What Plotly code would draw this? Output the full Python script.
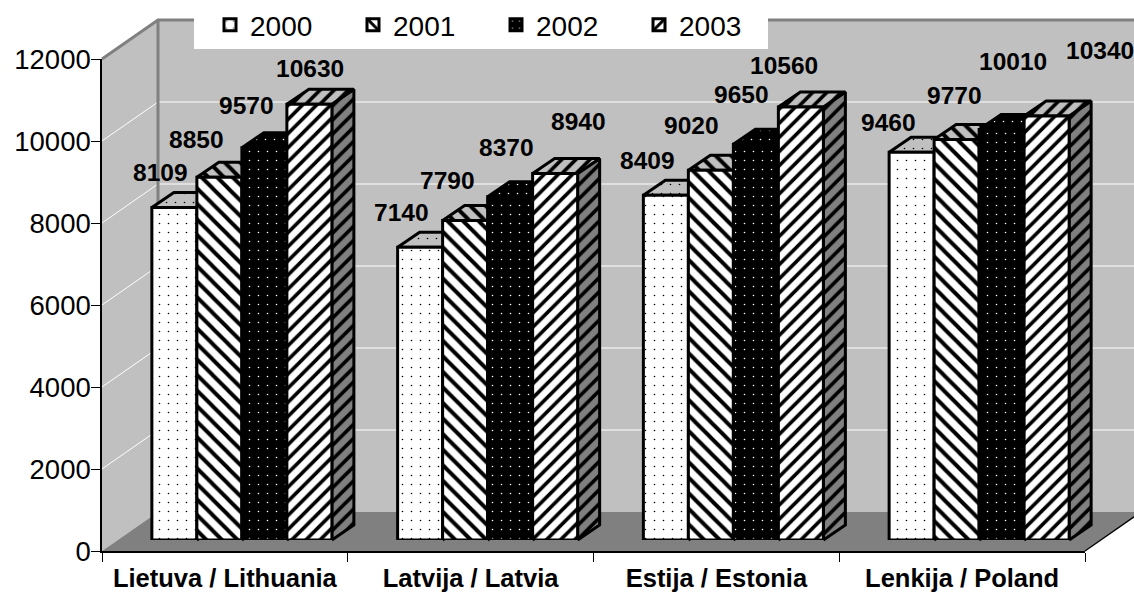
import plotly.graph_objects as go

categories = ["Lietuva / Lithuania", "Latvija / Latvia", "Estija / Estonia", "Lenkija / Poland"]
years = ["2000", "2001", "2002", "2003"]
v2000 = [8109, 7140, 8409, 9460]
v2001 = [8850, 7790, 9020, 9770]
v2002 = [9570, 8370, 9650, 10010]
v2003 = [10630, 8940, 10560, 10340]
series = [v2000, v2001, v2002, v2003]
y_ticks = [0, 2000, 4000, 6000, 8000, 10000, 12000]

# label offsets from each bar's top centre, in pixels (x right, y up)
label_dx = [[-14, -23, -18, 1], [-19, -18, -4, 23], [-18, -19, -14, -17], [-23, -2, 11, 53]]
label_dy = [[35, 38, 42, 36], [35, 40, 49, 52], [35, 45, 50, 42], [30, 44, 68, 66]]

W, H = 1134, 593
L, R, T, B = 102, 1085, 59, 551          # axis box, px
FONT = "Liberation Sans"
PX_X = (R - L) / 4                        # px per category
PX_Y = (B - T) / 12000                    # px per value unit
WX, WY = 56 / PX_X, 39 / PX_Y             # wall depth in data units
FX, FY = 17 / PX_X, 11 / PX_Y             # bar front plane offset
DX, DY = 22 / PX_X, 15 / PX_Y             # bar depth
GAP = 0.2675
BW = (1 - GAP) / 4

P = dict(
    dots=dict(shape=".", bgcolor="white", fgcolor="black", fgopacity=1, size=9, solidity=0.025),
    back=dict(shape="\\", bgcolor="white", fgcolor="black", fgopacity=1, size=11, solidity=0.36),
    nega=dict(shape=".", bgcolor="black", fgcolor="white", fgopacity=1, size=9, solidity=0.025),
    forw=dict(shape="/", bgcolor="white", fgcolor="black", fgopacity=1, size=10, solidity=0.36),
)
front_pat = [P["dots"], P["back"], P["nega"], P["forw"]]
top_bg = ["#C0C0C0", "#C0C0C0", "black", "#C0C0C0"]
side_bg = ["#808080", "#808080", "black", "#808080"]


def poly(xs, ys, fill=None, line="black", width=0, pattern=None, mode="lines"):
    kw = dict(x=xs, y=ys, mode=mode, hoverinfo="skip", showlegend=False, xaxis="x", yaxis="y")
    kw["line"] = dict(color=line, width=width)
    if fill is not None or pattern is not None:
        kw["fill"] = "toself"
        kw["fillcolor"] = fill
    if pattern is not None:
        kw["fillpattern"] = pattern
    return go.Scatter(**kw)


fig = go.Figure()
ymax = y_ticks[-1]
far = 4 + WX

# walls and floor
fig.add_trace(poly([0, WX, WX, 0, 0], [0, WY, ymax + WY, ymax, 0], fill="#C0C0C0"))
fig.add_trace(poly([WX, far, far, WX, WX], [WY, WY, ymax + WY, ymax + WY, WY], fill="#C0C0C0"))
fig.add_trace(poly([0, 4, far, WX, 0], [0, 0, WY, WY, 0], fill="#808080"))

# gridlines
for t in y_ticks[1:-1]:
    fig.add_trace(poly([0, WX, far], [t, t + WY, t + WY], line="white", width=1))

# wall borders
fig.add_trace(poly([0, WX, far], [ymax, ymax + WY, ymax + WY], line="#808080", width=3))
fig.add_trace(poly([WX, WX], [WY, ymax + WY], line="#808080", width=3))
fig.add_trace(poly([4, far], [0, WY], line="black", width=1.3))

# bar tops and sides
for s, vals in enumerate(series):
    for c, v in enumerate(vals):
        x0 = c + GAP / 2 + s * BW + FX
        x1 = x0 + BW
        y = v + FY
        pat = front_pat[s]
        top = dict(pat, bgcolor=top_bg[s])
        side = dict(pat, bgcolor=side_bg[s])
        fig.add_trace(poly([x1, x1 + DX, x1 + DX, x1, x1],
                           [FY, FY + DY, y + DY, y, FY],
                           fill=side_bg[s], width=3, pattern=side))
        fig.add_trace(poly([x0, x1, x1 + DX, x0 + DX, x0],
                           [y, y, y + DY, y + DY, y],
                           fill=top_bg[s], width=3, pattern=top))

# bar fronts
for s, vals in enumerate(series):
    fig.add_trace(go.Bar(x=categories, y=vals, name=years[s], xaxis="x2", yaxis="y2",
                         hoverinfo="skip",
                         marker=dict(color="white", pattern=front_pat[s],
                                     line=dict(color="black", width=3))))

# invisible trace carrying the visible axes
fig.add_trace(go.Scatter(x=categories, y=[0, 0, 0, 0], xaxis="x3", yaxis="y3", mode="markers",
                         marker=dict(opacity=0), hoverinfo="skip", showlegend=False))

annotations = []
for s, vals in enumerate(series):
    for c, v in enumerate(vals):
        annotations.append(dict(
            x=c - 0.5 + GAP / 2 + (s + 0.5) * BW, y=v, xref="x2", yref="y2",
            text=str(v), showarrow=False, xanchor="center", yanchor="middle",
            xshift=label_dx[c][s], yshift=label_dy[c][s],
            font=dict(family=FONT, size=24.5, color="black", weight="bold")))

hidden = dict(visible=False, fixedrange=True)
fig.update_layout(
    width=W, height=H, margin=dict(l=0, r=0, t=0, b=0, autoexpand=False),
    paper_bgcolor="white", plot_bgcolor="rgba(0,0,0,0)",
    barmode="group", bargap=GAP, bargroupgap=0, hovermode=False,
    font=dict(family=FONT, color="black"),
    annotations=annotations,
    xaxis=dict(hidden, domain=[0, 1], range=[-L / PX_X, (W - L) / PX_X]),
    yaxis=dict(hidden, domain=[0, 1], range=[(B - H) / PX_Y, B / PX_Y]),
    xaxis2=dict(hidden, type="category", categoryarray=categories, categoryorder="array", anchor="y2",
                domain=[(L + 17) / W, (R + 17) / W], range=[-0.5, 3.5]),
    yaxis2=dict(hidden, anchor="x2", domain=[(H - B + 11) / H, (H - T + 11) / H], range=[0, 12000]),
    xaxis3=dict(type="category", categoryarray=categories, categoryorder="array", anchor="y3",
                domain=[L / W, R / W], range=[-0.5, 3.5], tickson="boundaries",
                ticks="outside", ticklen=9, tickwidth=1.3, tickcolor="black",
                showline=True, linecolor="black", linewidth=1.5, showgrid=False, zeroline=False,
                ticklabelstandoff=4,
                tickfont=dict(family=FONT, size=25.5, color="black", weight="bold"), fixedrange=True),
    yaxis3=dict(anchor="x3", domain=[(H - B) / H, (H - T) / H], range=[0, 12000],
                tickmode="array", tickvals=y_ticks, ticktext=[str(t) for t in y_ticks],
                ticks="outside", ticklen=9, tickwidth=1.3, tickcolor="black",
                showline=True, linecolor="black", linewidth=1.5, showgrid=False, zeroline=False,
                ticklabelstandoff=-5,
                tickfont=dict(family=FONT, size=27.5, color="black"), fixedrange=True),
    shapes=[dict(type="rect", xref="paper", yref="paper", layer="above",
                 x0=194 / W, x1=768 / W, y0=1 - 49 / H, y1=1,
                 fillcolor="white", line=dict(width=0))],
    legend=dict(orientation="h", x=210 / W, y=1, xanchor="left", yanchor="top",
                bgcolor="rgba(0,0,0,0)", borderwidth=0, entrywidth=98, entrywidthmode="pixels",
                font=dict(family=FONT, size=28, color="black"), itemclick=False, itemdoubleclick=False,
                traceorder="normal"),
)

fig.write_html("out.html", config={"displayModeBar": False},
               post_script="document.body.style.margin='0';document.documentElement.style.overflow='hidden';")
